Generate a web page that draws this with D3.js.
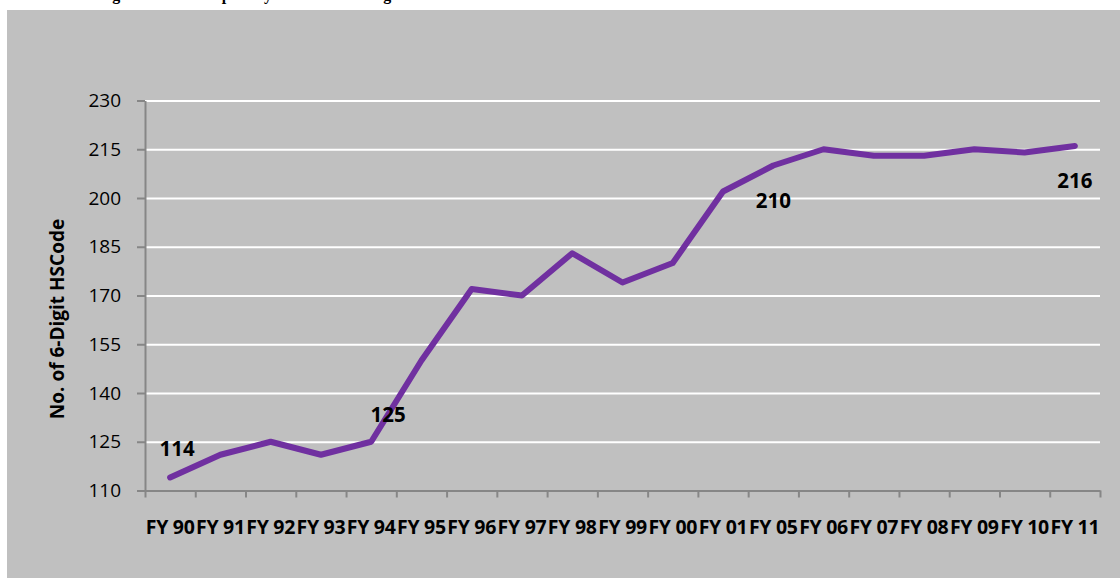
<!DOCTYPE html>
<meta charset="utf-8">
<html>
<head>
<title>6-Digit HSCode</title>
<style>
  body { margin: 0; background: #fff; }
  svg { display: block; }
  .tick text { fill: #000; }
</style>
<script src="https://d3js.org/d3.v7.min.js"></script>
</head>
<body>
<svg width="1120" height="578"></svg>
<script>
// data
var years = ["FY 90","FY 91","FY 92","FY 93","FY 94","FY 95","FY 96","FY 97","FY 98","FY 99",
             "FY 00","FY 01","FY 05","FY 06","FY 07","FY 08","FY 09","FY 10","FY 11"];
var counts = [114,121,125,121,125,150,172,170,183,174,180,202,210,215,213,213,215,214,216];
var yTicks = [110,125,140,155,170,185,200,215,230];
// which points carry a value label, and on which side
var labelAt = ["FY 90","FY 94","FY 05","FY 11"];
var labelSide = ["above","right","below","below"];

var svg = d3.select("svg"),
    margin = {top: 100.5, right: 20, bottom: 87.5, left: 145},
    width = 1100 - margin.left,
    height = 490.5 - margin.top;

svg.append("rect")
    .attr("x", 7).attr("y", 10)
    .attr("width", 1113).attr("height", 568)
    .attr("fill", "#c0c0c0");

// title runs off the top of the page, only descenders show
svg.append("text")
    .attr("x", 98).attr("y", -0.5)
    .attr("font-family", "'Liberation Serif', serif")
    .attr("font-weight", "bold")
    .attr("font-size", 16)
    .text("Figure 2: Total Export by Number of 6-Digit HSCode");

var g = svg.append("g").attr("transform", "translate(" + margin.left + "," + margin.top + ")");

var x = d3.scaleBand().domain(years).range([0, width]).paddingInner(0).paddingOuter(0);
var xEdge = d3.scaleLinear().domain([0, years.length]).range([0, width]);
var y = d3.scaleLinear().domain([110, 230]).range([height, 0]);

// white gridlines
g.append("g")
    .call(d3.axisLeft(y).tickValues(yTicks.slice(1)).tickSize(-width).tickFormat(""))
    .call(function(s) {
      s.select(".domain").remove();
      s.selectAll("line").attr("stroke", "#fff").attr("stroke-width", 2);
    });

// y axis
g.append("g")
    .call(d3.axisLeft(y).tickValues(yTicks).tickSizeInner(8).tickSizeOuter(0).tickPadding(16))
    .call(function(s) {
      s.select(".domain").attr("stroke", "#868686").attr("stroke-width", 2);
      s.selectAll("line").attr("stroke", "#868686").attr("stroke-width", 2);
      s.selectAll("text").attr("font-family", "'Open Sans', sans-serif").attr("font-size", 19);
    });

// x axis ticks on the category edges
g.append("g")
    .attr("transform", "translate(0," + height + ")")
    .call(d3.axisBottom(xEdge).tickValues(d3.range(years.length + 1)).tickSizeInner(7).tickSizeOuter(0).tickFormat(""))
    .call(function(s) {
      s.select(".domain").attr("stroke", "#868686").attr("stroke-width", 2);
      s.selectAll("line").attr("stroke", "#868686").attr("stroke-width", 2);
    });

// x labels
g.append("g")
    .attr("transform", "translate(0," + height + ")")
    .call(d3.axisBottom(x).tickSize(0).tickPadding(0))
    .call(function(s) {
      s.select(".domain").remove();
      s.selectAll("text")
        .attr("y", 43.5).attr("dy", 0)
        .attr("font-family", "'Open Sans', sans-serif")
        .attr("font-weight", "bold")
        .attr("font-size", 19.5)
        .attr("letter-spacing", -0.3);
    });

// y axis title
svg.append("text")
    .attr("transform", "translate(64,319) rotate(-90)")
    .attr("text-anchor", "middle")
    .attr("font-family", "'Open Sans', sans-serif")
    .attr("font-weight", "bold")
    .attr("font-size", 19)
    .text("No. of 6-Digit HSCode");

var line = d3.line()
    .x(function(d, i) { return x(years[i]) + x.bandwidth() / 2; })
    .y(function(d) { return y(d); });

g.append("path")
    .datum(counts)
    .attr("fill", "none")
    .attr("stroke", "#7030a0")
    .attr("stroke-width", 6)
    .attr("stroke-linejoin", "round")
    .attr("stroke-linecap", "round")
    .attr("d", line);

// value labels
var offs = { above: [7, -22], right: [17, -20], below: [0, 42] };
labelAt.forEach(function(c, k) {
  var i = years.indexOf(c);
  var o = offs[labelSide[k]];
  g.append("text")
    .attr("x", x(c) + x.bandwidth() / 2 + o[0])
    .attr("y", y(counts[i]) + o[1])
    .attr("text-anchor", "middle")
    .attr("font-family", "'Open Sans', sans-serif")
    .attr("font-weight", "bold")
    .attr("font-size", 20.5)
    .text(counts[i]);
});
</script>
</body>
</html>
